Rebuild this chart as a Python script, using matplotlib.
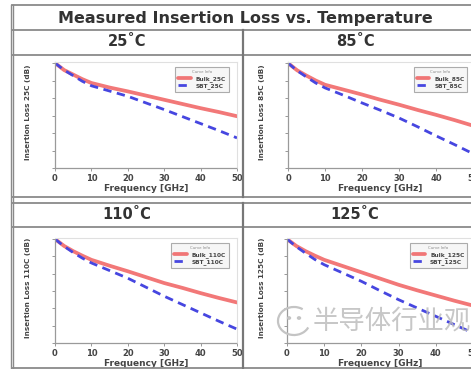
"""
Measured insertion loss vs. temperature - 2x2 table of panels
"""

import matplotlib.pyplot as plt
from matplotlib.lines import Line2D
from matplotlib.patches import Circle, Arc

# ── Data ───────────────────────────────────────────────────────
freq = [0, 2.5, 5, 7.5, 10, 15, 20, 25, 30, 35, 40, 45, 50]

temps = ['25', '85', '110', '125']

bulk_25 = [0, -0.20, -0.33, -0.46, -0.57, -0.70, -0.81, -0.93, -1.05, -1.17, -1.29, -1.40, -1.52]
sbt_25 = [0, -0.20, -0.36, -0.52, -0.65, -0.80, -0.95, -1.14, -1.33, -1.53, -1.73, -1.93, -2.14]

bulk_85 = [0, -0.21, -0.36, -0.50, -0.62, -0.76, -0.90, -1.05, -1.19, -1.34, -1.48, -1.63, -1.79]
sbt_85 = [0, -0.22, -0.40, -0.57, -0.71, -0.92, -1.14, -1.35, -1.57, -1.82, -2.08, -2.33, -2.59]

bulk_110 = [0, -0.20, -0.35, -0.48, -0.60, -0.77, -0.93, -1.10, -1.27, -1.41, -1.56, -1.70, -1.83]
sbt_110 = [0, -0.21, -0.39, -0.55, -0.69, -0.91, -1.13, -1.39, -1.65, -1.89, -2.13, -2.37, -2.60]

bulk_125 = [0, -0.20, -0.35, -0.48, -0.60, -0.78, -0.96, -1.14, -1.32, -1.48, -1.63, -1.78, -1.92]
sbt_125 = [0, -0.22, -0.41, -0.59, -0.74, -0.98, -1.22, -1.49, -1.75, -1.99, -2.23, -2.47, -2.71]

bulk = [bulk_25, bulk_85, bulk_110, bulk_125]
sbt = [sbt_25, sbt_85, sbt_110, sbt_125]

xticks = [0, 10, 20, 30, 40, 50]

# ── Figure ─────────────────────────────────────────────────────
W, H = 471, 369
fig = plt.figure(figsize=(W / 100, H / 100), dpi=100)
fig.patch.set_facecolor('white')


def fx(x):
    return x / W


def fy(y):
    return 1 - y / H


def hline(y, x0=12, x1=471, lw=1.3, c='#8a8a8a'):
    fig.add_artist(Line2D([fx(x0), fx(x1)], [fy(y), fy(y)], lw=lw, color=c))


def vline(x, y0, y1, lw=1.3, c='#8a8a8a'):
    fig.add_artist(Line2D([fx(x), fx(x)], [fy(y0), fy(y1)], lw=lw, color=c))


# table frame
hline(5)
hline(30)
hline(55)
hline(197)
hline(203)
hline(227)
hline(368)
vline(11, 5, 368, lw=1.0)
vline(13, 5, 368, lw=1.0)
vline(243, 30, 197, lw=1.6, c='#777777')
vline(243, 203, 368, lw=1.6, c='#777777')

fig.text(fx(245), fy(18), 'Measured Insertion Loss vs. Temperature',
         ha='center', va='center', fontsize=11.5, fontweight='bold', color='#333333')

headers = [(127, 42), (355, 42), (127, 215), (355, 215)]
axes_px = [(55, 62, 237, 168), (288, 62, 473, 168),
           (55, 238, 237, 343), (287, 238, 473, 343)]
ylab_x = [28, 262, 28, 262]

for i, t in enumerate(temps):
    hx, hy = headers[i]
    fig.text(fx(hx), fy(hy), f'{t}\u02daC', ha='center', va='center',
             fontsize=10.5, fontweight='bold', color='#333333')

    x0, y0, x1, y1 = axes_px[i]
    ax = fig.add_axes([fx(x0), fy(y1), fx(x1 - x0), (y1 - y0) / H])
    ax.plot(freq, bulk[i], color='#f06060', lw=2.7, alpha=0.85,
            label=f'Bulk_{t}C', solid_capstyle='round')
    ax.plot(freq, sbt[i], color='#4646e0', lw=2.0, ls=(0, (3, 2)),
            label=f'SBT_{t}C')
    ax.set_xlim(0, 50)
    ax.set_ylim(-3.0, 0.03)
    ax.set_xticks(xticks)
    ax.set_xticklabels([str(v) for v in xticks], fontsize=6, fontweight='bold',
                       color='#444444')
    ax.set_yticks([-3, -2.5, -2, -1.5, -1, -0.5, 0])
    ax.set_yticklabels([])
    ax.tick_params(length=2, width=0.6, color='#888888', pad=2)
    for side in ['top', 'right']:
        ax.spines[side].set_color('#e0e0e0')
        ax.spines[side].set_linewidth(0.8)
    for side in ['left', 'bottom']:
        ax.spines[side].set_color('#9a9a9a')
        ax.spines[side].set_linestyle((0, (1, 1)))
        ax.spines[side].set_linewidth(0.9)
    ax.set_xlabel('Frequency [GHz]', fontsize=6.5, fontweight='bold',
                  color='#444444', labelpad=1)
    fig.text(fx(ylab_x[i]), fy((y0 + y1) / 2 - 3), f'Insertion Loss {t}C (dB)',
             rotation=90, ha='center', va='center', fontsize=5.2,
             fontweight='bold', color='#444444')

    leg = ax.legend(loc='upper right', fontsize=4.2, title='Curve Info',
                    title_fontsize=2.8, frameon=True, fancybox=False,
                    handlelength=2.2, borderpad=0.5, labelspacing=0.3,
                    bbox_to_anchor=(0.97 if i % 2 == 0 else 0.985, 0.98))
    leg.get_frame().set_edgecolor('#999999')
    leg.get_frame().set_facecolor('#f4f4f4')
    leg.get_frame().set_linewidth(0.8)
    for txt in leg.get_texts():
        txt.set_fontweight('bold')
        txt.set_color('#444444')
    leg.get_title().set_color('#888888')

# watermark
fig.add_artist(Arc((fx(294), fy(321)), fx(32), 28 / H, theta1=60, theta2=330,
                   color='#c4c4c4', lw=1.6))
fig.add_artist(Circle((fx(289), fy(318)), 1.5 / W, color='#c4c4c4'))
fig.add_artist(Circle((fx(299), fy(318)), 1.5 / W, color='#c4c4c4'))
fig.text(fx(313), fy(321), '半导体行业观察', ha='left', va='center',
         fontsize=19, color='#bdbdbd', alpha=0.85,
         family=['Noto Sans CJK SC', 'DejaVu Sans'])

fig.savefig('out.png', dpi=100, facecolor='white')
